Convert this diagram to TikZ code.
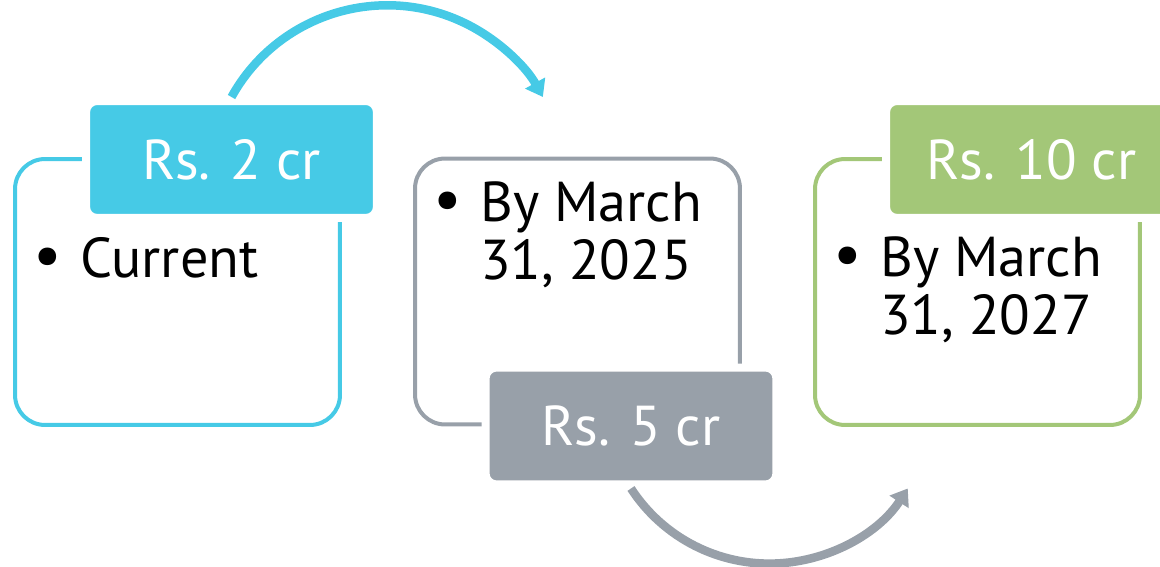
\documentclass[tikz,border=0pt]{standalone}
\usepackage{fontspec}
\setmainfont{PT Sans}
\usepackage{xcolor}
\usetikzlibrary{arrows.meta, positioning}

\definecolor{tealblue}{RGB}{70,202,230}
\definecolor{slate}{RGB}{152,160,169}
\definecolor{leaf}{RGB}{163,199,120}

\newcommand{\bulletmark}{\raisebox{0.02cm}{\fontsize{36}{36}\selectfont\textbullet}}

\begin{document}
\begin{tikzpicture}[
        x=0.02cm, y=-0.02cm,
        frame/.style={rectangle, rounded corners=0.6cm, draw=#1, line width=0.08cm, minimum width=6.5cm, minimum height=5.32cm},
        hdr/.style={rectangle, rounded corners=0.22cm, fill=#1, draw=white, line width=0.16cm, minimum width=5.82cm, minimum height=2.34cm, text=white, font=\fontsize{32}{33}\selectfont},
        item/.style={anchor=base west, inner sep=0pt, font=\fontsize{32}{33}\selectfont},
        flow/.style={draw=#1, line width=0.17cm, -{Triangle[length=0.32cm, width=0.44cm]}}
    ]
        \useasboundingbox (0,0) rectangle (1160,567);

        % outlines
        \node[frame=tealblue] (boxA) at (177.5,292) {};
        \node[frame=slate] (boxB) at (577.5,291.5) {};
        \node[frame=leaf] (boxC) at (977.5,292) {};

        % headers
        \node[hdr=tealblue] (hdrA) at (231.5,159.5) {Rs. 2 cr};
        \node[hdr=slate] (hdrB) at (631,426) {Rs. 5 cr};
        \node[hdr=leaf] (hdrC) at (1031.5,159.5) {Rs. 10 cr};

        % arrows
        \draw[flow=tealblue] (hdrA.north) arc[start angle=209, end angle=331, radius=178];
        \draw[flow=slate] (hdrB.south) arc[start angle=147, end angle=33, radius=165];

        % bullets
        \node[item] (txtA) at (33,278) {\begin{tabular}[t]{@{}p{0.94cm}@{}l@{}}\bulletmark & Current\end{tabular}};
        \node[item] (txtB) at (433,222) {\begin{tabular}[t]{@{}p{0.94cm}@{}l@{}}\bulletmark & By March\\ & 31, 2025\end{tabular}};
        \node[item] (txtC) at (833,277) {\begin{tabular}[t]{@{}p{0.94cm}@{}l@{}}\bulletmark & By March\\ & 31, 2027\end{tabular}};
    \end{tikzpicture}
\end{document}
